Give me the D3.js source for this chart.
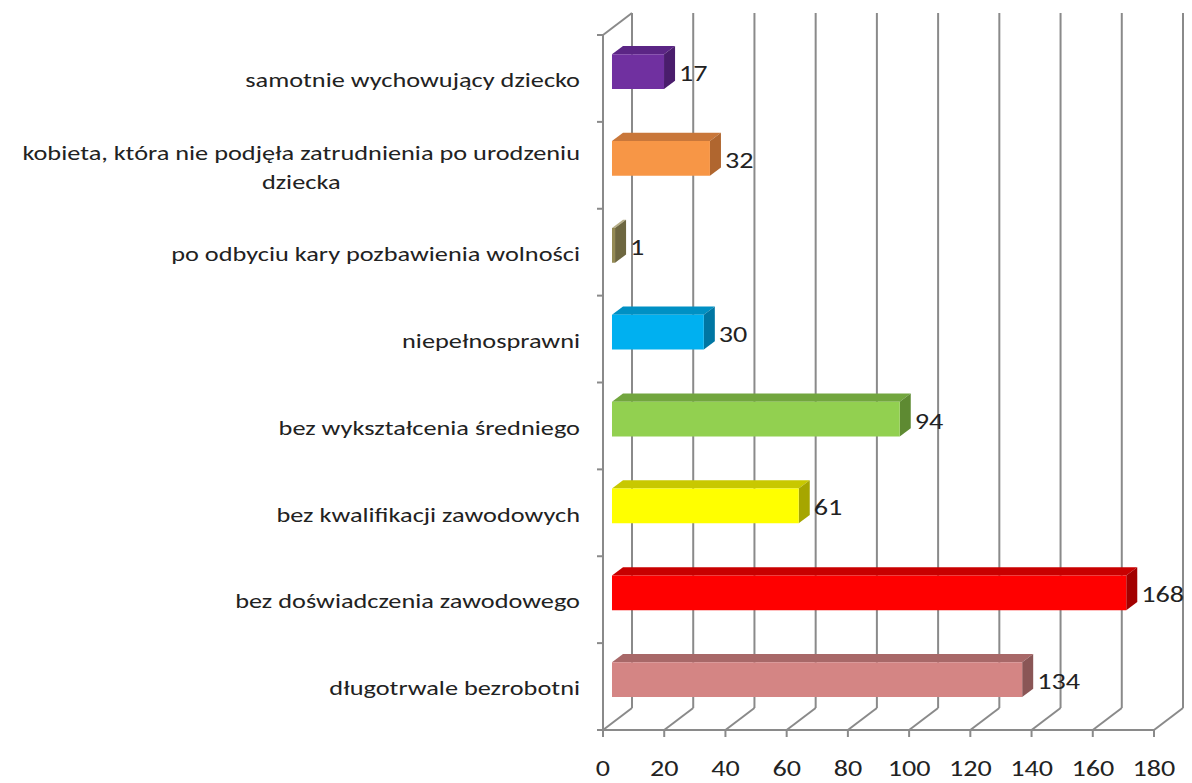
<!DOCTYPE html>
<html>
<head>
<meta charset="utf-8">
<script src="https://cdn.jsdelivr.net/npm/d3@7"></script>
<style>
  body { margin: 0; background: #fff; }
  svg text { font-family: Carlito, Lato, "Open Sans", sans-serif; fill: #222; }
</style>
</head>
<body>
<div id="container"></div>
<script>
// data, top to bottom as in the chart
var categories = [
  ['samotnie wychowujący dziecko'],
  ['kobieta, która nie podjęła zatrudnienia po urodzeniu', 'dziecka'],
  ['po odbyciu kary pozbawienia wolności'],
  ['niepełnosprawni'],
  ['bez wykształcenia średniego'],
  ['bez kwalifikacji zawodowych'],
  ['bez doświadczenia zawodowego'],
  ['długotrwale bezrobotni']
];
var values = [17, 32, 1, 30, 94, 61, 168, 134];
var xTicks = [0, 20, 40, 60, 80, 100, 120, 140, 160, 180];

// front / top / side colours for each bar
var palette = [
  ['#7030a0', '#5b2585', '#4a1d6c'],
  ['#f79646', '#c9773a', '#b0662f'],
  ['#948a54', '#b8b08a', '#6e6740'],
  ['#00b0f0', '#0090c4', '#0076a3'],
  ['#92d050', '#72a63e', '#5e8a32'],
  ['#ffff00', '#c8c800', '#a6a600'],
  ['#ff0000', '#c80000', '#a20000'],
  ['#d48584', '#a86868', '#8a5656']
];

var w = 1192, h = 783;
var DX = 29, DY = 22;       // depth offset of the back wall
var z0 = 0.31, z1 = 0.69;   // bar depth
var plotTop = 35, plotBottom = 730;
var sxLabel = 1.35, sxNum = 1.28;  // the original picture is stretched sideways

var svg = d3.select('#container').append('svg')
  .attr('width', w).attr('height', h);

var x = d3.scaleLinear().domain([0, 180]).range([603, 1154]);
var y = d3.scaleBand().domain(d3.range(categories.length))
  .range([plotTop, plotBottom]).paddingInner(0.6).paddingOuter(0.3);
var step = (plotBottom - plotTop) / categories.length;

function proj(v, yy, z) { return [x(v) + z * DX, yy - z * DY]; }

var grid = svg.append('g').attr('stroke', '#8a8a8a').attr('stroke-width', 2).attr('fill', 'none');

// back wall gridlines
grid.selectAll('.back').data(xTicks).enter().append('line')
  .attr('x1', d => x(d) + DX).attr('x2', d => x(d) + DX)
  .attr('y1', plotTop - DY).attr('y2', plotBottom - DY);
// floor diagonals
grid.selectAll('.floor').data(xTicks).enter().append('line')
  .attr('x1', d => x(d)).attr('y1', plotBottom)
  .attr('x2', d => x(d) + DX).attr('y2', plotBottom - DY);
// front floor edge
grid.append('line').attr('x1', x(0)).attr('x2', x(180)).attr('y1', plotBottom).attr('y2', plotBottom);
// left wall
grid.append('line').attr('x1', x(0)).attr('x2', x(0)).attr('y1', plotTop).attr('y2', plotBottom);
grid.append('line').attr('x1', x(0)).attr('y1', plotTop).attr('x2', x(0) + DX).attr('y2', plotTop - DY);
// ticks
grid.selectAll('.yt').data(d3.range(categories.length + 1)).enter().append('line')
  .attr('x1', x(0) - 6).attr('x2', x(0))
  .attr('y1', d => plotTop + d * step).attr('y2', d => plotTop + d * step);
grid.selectAll('.xt').data(xTicks).enter().append('line')
  .attr('x1', d => x(d)).attr('x2', d => x(d))
  .attr('y1', plotBottom).attr('y2', plotBottom + 7);

// bars
var bars = svg.append('g').selectAll('g').data(values).enter().append('g');
function poly(pts) { return 'M' + pts.map(p => p.join(',')).join('L') + 'Z'; }
bars.append('path')
  .attr('fill', (d, i) => palette[i][1])
  .attr('d', (d, i) => {
    var yb = y(i);
    return poly([proj(0, yb, z0), proj(d, yb, z0), proj(d, yb, z1), proj(0, yb, z1)]);
  });
bars.append('path')
  .attr('fill', (d, i) => palette[i][2])
  .attr('d', (d, i) => {
    var yb = y(i), ye = yb + y.bandwidth();
    return poly([proj(d, yb, z0), proj(d, yb, z1), proj(d, ye, z1), proj(d, ye, z0)]);
  });
bars.append('path')
  .attr('fill', (d, i) => palette[i][0])
  .attr('d', (d, i) => {
    var yb = y(i), ye = yb + y.bandwidth();
    return poly([proj(0, yb, z0), proj(d, yb, z0), proj(d, ye, z0), proj(0, ye, z0)]);
  });

// value labels
bars.append('g')
  .attr('transform', (d, i) => 'translate(' + (x(d) + z1 * DX + 4) + ',' +
        (y(i) + y.bandwidth() / 2 - z0 * DY + 2) + ') scale(' + sxNum + ',1)')
  .append('text')
  .attr('dominant-baseline', 'central')
  .style('font-size', '22px')
  .text(d => d);

// category labels
var lineH = 29;
var labels = svg.append('g').selectAll('g').data(categories).enter().append('g')
  .attr('transform', (d, i) => 'translate(580,' + (plotTop + (i + 0.5) * step + 2) + ') scale(' + sxLabel + ',1)')
  .append('text')
  .attr('text-anchor', 'end')
  .attr('dominant-baseline', 'central')
  .style('font-size', '19.5px');
labels.each(function(lines) {
  var t = d3.select(this);
  if (lines.length === 1) {
    t.text(lines[0]);
  } else {
    t.attr('text-anchor', 'middle');
    var tmp = t.append('tspan').text(lines[0]);
    var wd = tmp.node().getComputedTextLength();
    tmp.remove();
    lines.forEach(function(l, k) {
      t.append('tspan').attr('x', -wd / 2)
        .attr('y', (k - (lines.length - 1) / 2) * lineH)
        .text(l);
    });
  }
});

// x tick labels
svg.append('g').selectAll('g').data(xTicks).enter().append('g')
  .attr('transform', d => 'translate(' + x(d) + ',769) scale(' + sxNum + ',1)')
  .append('text')
  .attr('text-anchor', 'middle').attr('dominant-baseline', 'central')
  .style('font-size', '22px')
  .text(d => d);
</script>
</body>
</html>
